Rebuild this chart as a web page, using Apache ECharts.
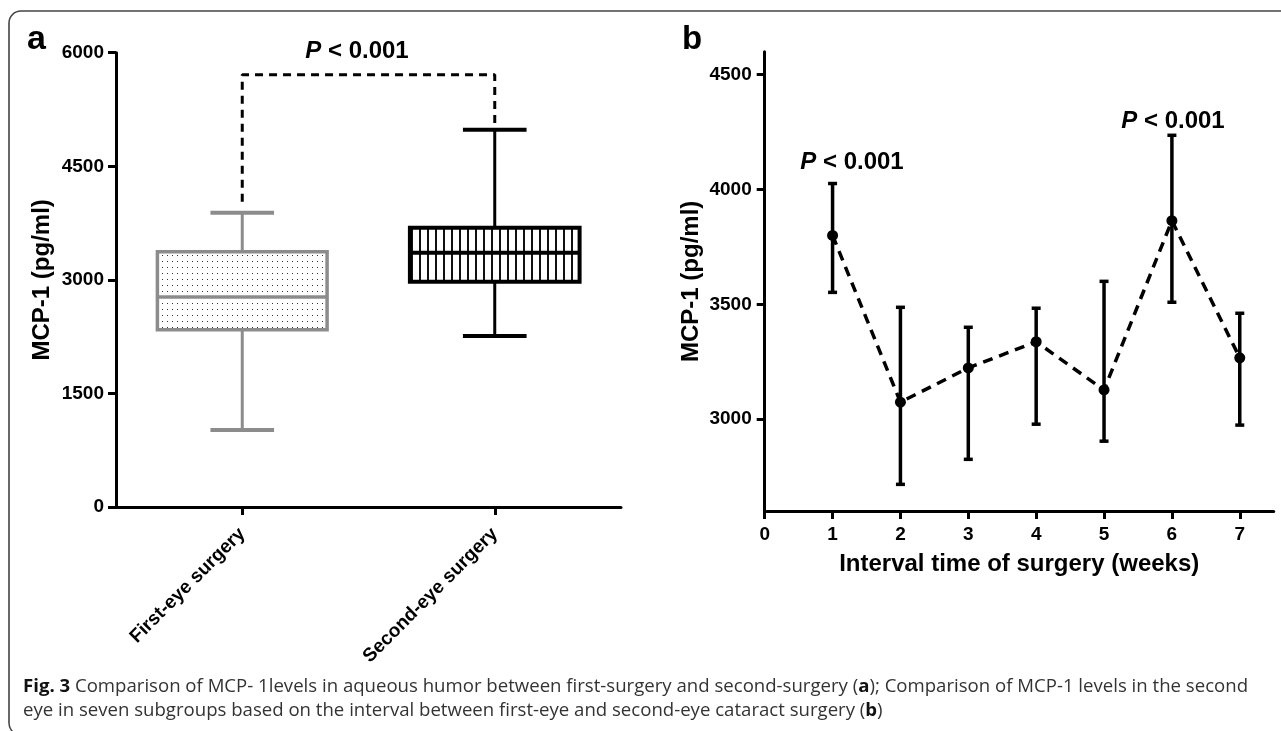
<!DOCTYPE html>
<html>
<head>
<meta charset="utf-8">
<title>MCP-1 levels</title>
<script src="https://cdn.jsdelivr.net/npm/echarts@6/dist/echarts.min.js"></script>
</head>
<body style="margin:0;padding:0;background:#fff;">
<div id="main" style="width:1281px;height:731px;"></div>
<script type="text/javascript">
// panel a: box plot, first eye vs second eye
var groups = ['First-eye surgery', 'Second-eye surgery'];
var boxMin = [1018, 2260];
var boxQ1 = [2340, 2975];
var boxMedian = [2775, 3357];
var boxQ3 = [3370, 3687];
var boxMax = [3885, 4982];
// dashed bracket between the two groups
var bracketX = [0, 0, 1, 1];
var bracketY = [4030, 5710, 5710, 5050];

// panel b: mean +/- error by interval (weeks)
var weeks = [1, 2, 3, 4, 5, 6, 7];
var meanVal = [3800, 3074, 3223, 3337, 3127, 3864, 3267];
var lowVal = [3552, 2716, 2825, 2978, 2904, 3509, 2974];
var highVal = [4026, 3487, 3400, 3483, 3600, 4236, 3461];
var yTicksB = [3000, 3500, 4000, 4500];
var xTicksB = [0, 1, 2, 3, 4, 5, 6, 7];

var FONT = "'Liberation Sans', Arial, sans-serif";

function makePattern(w, h, draw) {
    var c = document.createElement('canvas');
    c.width = w; c.height = h;
    var ctx = c.getContext('2d');
    ctx.fillStyle = '#fff';
    ctx.fillRect(0, 0, w, h);
    draw(ctx);
    return { image: c, repeat: 'repeat' };
}
var dotFill = makePattern(5, 6, function (ctx) {
    ctx.fillStyle = '#333';
    ctx.fillRect(2, 3, 1, 1);
});
var stripeFill = makePattern(8, 8, function (ctx) {
    ctx.fillStyle = '#111';
    ctx.fillRect(3, 0, 2, 8);
});

function renderBox(params, api) {
    var idx = api.value(0);
    var band = api.size([1, 0])[0];
    var cx = api.coord([idx, 0])[0];
    var yLo = api.coord([idx, api.value(1)])[1];
    var yQ1 = api.coord([idx, api.value(2)])[1];
    var yMed = api.coord([idx, api.value(3)])[1];
    var yQ3 = api.coord([idx, api.value(4)])[1];
    var yHi = api.coord([idx, api.value(5)])[1];
    var half = band * 0.336, capHalf = band * 0.126;
    var dark = idx === 1;
    var col = dark ? '#000' : '#8c8c8c';
    var lw = dark ? 4 : 3.5;
    return {
        type: 'group',
        children: [
            { type: 'line', shape: { x1: cx, y1: yHi, x2: cx, y2: yQ3 }, style: { stroke: col, lineWidth: 3 } },
            { type: 'line', shape: { x1: cx, y1: yQ1, x2: cx, y2: yLo }, style: { stroke: col, lineWidth: 3 } },
            { type: 'line', shape: { x1: cx - capHalf, y1: yHi, x2: cx + capHalf, y2: yHi }, style: { stroke: col, lineWidth: 4 } },
            { type: 'line', shape: { x1: cx - capHalf, y1: yLo, x2: cx + capHalf, y2: yLo }, style: { stroke: col, lineWidth: 4 } },
            { type: 'rect', shape: { x: cx - half, y: yQ3, width: half * 2, height: yQ1 - yQ3 },
              style: { fill: dark ? stripeFill : dotFill, stroke: col, lineWidth: lw } },
            { type: 'line', shape: { x1: cx - half, y1: yMed, x2: cx + half, y2: yMed }, style: { stroke: col, lineWidth: lw } }
        ]
    };
}

function renderErr(params, api) {
    var lo = api.coord([api.value(0), api.value(1)]);
    var hi = api.coord([api.value(0), api.value(2)]);
    var x = lo[0], cap = 4.5;
    var st = { stroke: '#000', lineWidth: 3.5 };
    return {
        type: 'group',
        children: [
            { type: 'line', shape: { x1: x, y1: lo[1], x2: x, y2: hi[1] }, style: st },
            { type: 'line', shape: { x1: x - cap, y1: lo[1], x2: x + cap, y2: lo[1] }, style: st },
            { type: 'line', shape: { x1: x - cap, y1: hi[1], x2: x + cap, y2: hi[1] }, style: st }
        ]
    };
}

function plain(v) { return String(v); }

var axisLineStyle = { show: true, lineStyle: { color: '#000', width: 3 } };
var tickStyle = { show: true, length: 8, lineStyle: { color: '#000', width: 3 } };
var nameStyle = { color: '#000', fontSize: 24, fontWeight: 'bold', fontFamily: FONT };

var pRich = {
    i: { fontStyle: 'italic', fontWeight: 'bold', fontSize: 24, fontFamily: FONT, fill: '#000' },
    n: { fontWeight: 'bold', fontSize: 24, fontFamily: FONT, fill: '#000' }
};
function pText(x, y) {
    return {
        type: 'text', x: x, y: y,
        style: { text: '{i|P}{n| < 0.001}', rich: pRich, align: 'center', verticalAlign: 'middle' }
    };
}
var capRich = {
    b: { fontWeight: 'bold', fontSize: 18.6, fontFamily: "'Open Sans', sans-serif", fill: '#111' },
    r: { fontSize: 18.6, fontFamily: "'Open Sans', sans-serif", fill: '#333' }
};

var myChart = echarts.init(document.getElementById('main'));

var option = {
    animation: false,
    backgroundColor: '#fff',
    grid: [
        { left: 116, top: 52.7, width: 505, height: 454.3 },
        { left: 764.7, top: 51.7, width: 509, height: 459.3 }
    ],
    xAxis: [
        {
            type: 'category', gridIndex: 0, data: groups,
            axisLine: axisLineStyle,
            axisTick: { show: true, alignWithLabel: true, length: 8, lineStyle: { color: '#000', width: 3 } },
            axisLabel: { color: '#000', fontSize: 19, fontWeight: 'bold', fontFamily: FONT, rotate: 45, margin: 24 },
            splitLine: { show: false }
        },
        {
            type: 'value', gridIndex: 1, min: 0, max: 7.5,
            name: 'Interval time of surgery (weeks)', nameLocation: 'middle', nameGap: 41,
            nameTextStyle: nameStyle,
            axisLine: axisLineStyle,
            axisTick: { show: true, length: 8, lineStyle: { color: '#000', width: 3 }, customValues: xTicksB },
            axisLabel: { color: '#000', fontSize: 19, fontWeight: 'bold', fontFamily: FONT, margin: 14, customValues: xTicksB, formatter: plain },
            splitLine: { show: false }
        }
    ],
    yAxis: [
        {
            type: 'value', gridIndex: 0, min: 0, max: 6000, interval: 1500,
            name: 'MCP-1 (pg/ml)', nameLocation: 'middle', nameGap: 62, nameRotate: 90,
            nameTextStyle: nameStyle,
            axisLine: axisLineStyle,
            axisTick: tickStyle,
            axisLabel: { color: '#000', fontSize: 19, fontWeight: 'bold', fontFamily: FONT, margin: 12, formatter: plain },
            splitLine: { show: false }
        },
        {
            type: 'value', gridIndex: 1, min: 2600, max: 4600,
            name: 'MCP-1 (pg/ml)', nameLocation: 'middle', nameGap: 61, nameRotate: 90,
            nameTextStyle: nameStyle,
            axisLine: axisLineStyle,
            axisTick: { show: true, length: 8, lineStyle: { color: '#000', width: 3 }, customValues: yTicksB },
            axisLabel: { color: '#000', fontSize: 19, fontWeight: 'bold', fontFamily: FONT, margin: 13, customValues: yTicksB, formatter: plain },
            splitLine: { show: false }
        }
    ],
    series: [
        {
            type: 'custom', xAxisIndex: 0, yAxisIndex: 0,
            renderItem: renderBox,
            encode: { x: 0, y: [1, 2, 3, 4, 5] },
            data: groups.map(function (g, i) {
                return [i, boxMin[i], boxQ1[i], boxMedian[i], boxQ3[i], boxMax[i]];
            }),
            z: 2
        },
        {
            type: 'line', xAxisIndex: 0, yAxisIndex: 0,
            data: bracketX.map(function (x, i) { return [x, bracketY[i]]; }),
            symbol: 'none',
            lineStyle: { color: '#000', width: 3, type: [8, 6] },
            z: 1
        },
        {
            type: 'custom', xAxisIndex: 1, yAxisIndex: 1,
            renderItem: renderErr,
            encode: { x: 0, y: [1, 2] },
            data: weeks.map(function (w, i) { return [w, lowVal[i], highVal[i]]; }),
            z: 2
        },
        {
            type: 'line', xAxisIndex: 1, yAxisIndex: 1,
            data: weeks.map(function (w, i) { return [w, meanVal[i]]; }),
            symbol: 'circle', symbolSize: 11,
            itemStyle: { color: '#000' },
            lineStyle: { color: '#000', width: 3.5, type: [10, 7] },
            z: 3
        }
    ],
    graphic: [
        {
            type: 'rect', shape: { x: 9, y: 11, width: 1420, height: 724, r: 12 },
            style: { fill: 'none', stroke: '#444', lineWidth: 1.6 }, silent: true
        },
        { type: 'text', x: 27, y: 40, style: { text: 'a', fontSize: 34, fontWeight: 'bold', fontFamily: FONT, fill: '#000', verticalAlign: 'middle' } },
        { type: 'text', x: 682, y: 40, style: { text: 'b', fontSize: 33, fontWeight: 'bold', fontFamily: FONT, fill: '#000', verticalAlign: 'middle' } },
        pText(357, 51),
        pText(852, 162),
        pText(1173, 121),
        {
            type: 'text', x: 23, y: 687,
            style: {
                text: '{b|Fig. 3}{r| Comparison of MCP- 1levels in aqueous humor between first-surgery and second-surgery (}{b|a}{r|); Comparison of MCP-1 levels in the second}',
                rich: capRich, verticalAlign: 'middle'
            }
        },
        {
            type: 'text', x: 23, y: 711,
            style: {
                text: '{r|eye in seven subgroups based on the interval between first-eye and second-eye cataract surgery (}{b|b}{r|)}',
                rich: capRich, verticalAlign: 'middle'
            }
        }
    ]
};

myChart.setOption(option);
</script>
</body>
</html>
